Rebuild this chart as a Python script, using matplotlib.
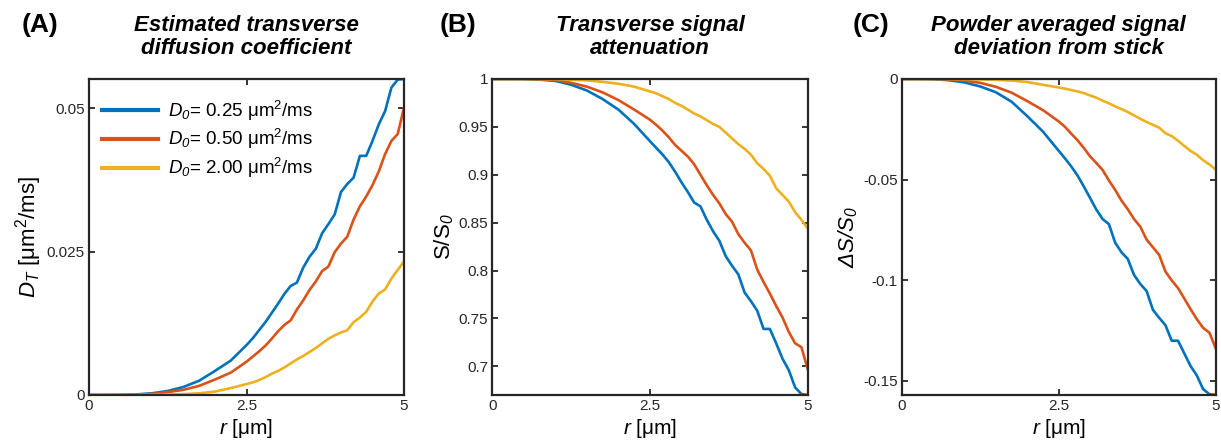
import numpy as np
import matplotlib
matplotlib.use("Agg")
import matplotlib.pyplot as plt

plt.rcParams['font.family'] = ['Liberation Sans', 'DejaVu Sans']
plt.rcParams['mathtext.fontset'] = 'custom'
plt.rcParams['mathtext.rm'] = 'Liberation Sans'
plt.rcParams['mathtext.it'] = 'Liberation Sans:italic'
plt.rcParams['mathtext.sf'] = 'Liberation Sans:italic'
plt.rcParams['mathtext.bf'] = 'Liberation Sans:bold'

# ---------------- data ----------------
r = [0, 0.25, 0.5, 0.75, 1.0, 1.25, 1.5, 1.75, 2.0, 2.25,
     2.5, 2.6, 2.7, 2.8, 2.9, 3.0, 3.1, 3.2, 3.3, 3.4, 3.5, 3.6, 3.7, 3.8, 3.9,
     4.0, 4.1, 4.2, 4.3, 4.4, 4.5, 4.6, 4.7, 4.8, 4.9, 5.0]

# Panel A: D_T [um^2/ms]
dt_025 = [0, 0, 0.00002, 0.0001, 0.0003, 0.0007, 0.0014, 0.0025, 0.0042, 0.0060,
          0.0087, 0.0099, 0.0113, 0.0127, 0.0143, 0.0159, 0.0176, 0.0190, 0.0196, 0.0222,
          0.0241, 0.0255, 0.0282, 0.0298, 0.0315, 0.0354, 0.0368, 0.0379, 0.0417, 0.0417,
          0.0443, 0.0472, 0.0495, 0.0536, 0.0550, 0.0551]
dt_050 = [0, 0, 0.00001, 0.00006, 0.0002, 0.0005, 0.0009, 0.0016, 0.0027, 0.0039,
          0.0058, 0.0067, 0.0076, 0.0086, 0.0098, 0.0111, 0.0122, 0.0130, 0.0149, 0.0165,
          0.0183, 0.0198, 0.0216, 0.0224, 0.0249, 0.0264, 0.0276, 0.0306, 0.0329, 0.0346,
          0.0366, 0.0390, 0.0420, 0.0443, 0.0455, 0.0501]
dt_200 = [0, 0, 0, 0.00001, 0.00003, 0.00007, 0.00015, 0.0003, 0.0006, 0.0012,
          0.0019, 0.0022, 0.0026, 0.0031, 0.0037, 0.0042, 0.0048, 0.0055, 0.0062, 0.0068,
          0.0075, 0.0082, 0.0090, 0.0098, 0.0104, 0.0109, 0.0113, 0.0127, 0.0135, 0.0145,
          0.0163, 0.0177, 0.0184, 0.0203, 0.0218, 0.0233]

# Panel B: S/S0
s_025 = [1, 1, 0.9999, 0.9993, 0.998, 0.994, 0.988, 0.979, 0.968, 0.953,
         0.935, 0.928, 0.921, 0.913, 0.903, 0.892, 0.882, 0.871, 0.867, 0.853,
         0.841, 0.831, 0.815, 0.805, 0.796, 0.777, 0.768, 0.758, 0.739, 0.739,
         0.724, 0.708, 0.696, 0.678, 0.671, 0.670]
s_050 = [1, 1, 1, 0.9997, 0.999, 0.996, 0.992, 0.986, 0.978, 0.968,
         0.9575, 0.952, 0.946, 0.939, 0.931, 0.925, 0.919, 0.911, 0.900, 0.889,
         0.879, 0.870, 0.859, 0.851, 0.838, 0.829, 0.821, 0.801, 0.788, 0.776,
         0.763, 0.751, 0.736, 0.724, 0.720, 0.697]
s_200 = [1, 1, 1, 0.9999, 0.9998, 0.9993, 0.9985, 0.997, 0.995, 0.992,
         0.987, 0.985, 0.982, 0.979, 0.975, 0.972, 0.968, 0.964, 0.961, 0.957,
         0.953, 0.950, 0.944, 0.938, 0.932, 0.927, 0.921, 0.912, 0.906, 0.899,
         0.886, 0.879, 0.872, 0.861, 0.853, 0.844]

# Panel C: delta S/S0
ds_025 = [0, 0, -0.0001, -0.0006, -0.0017, -0.0037, -0.0066, -0.0113, -0.0185, -0.0262,
          -0.0357, -0.0395, -0.0435, -0.0480, -0.0535, -0.0592, -0.0650, -0.0697, -0.0722, -0.0815,
          -0.0862, -0.0895, -0.0975, -0.1020, -0.1055, -0.1148, -0.1188, -0.1225, -0.1302, -0.1302,
          -0.1365, -0.1428, -0.1475, -0.1543, -0.1568, -0.1571]
ds_050 = [0, 0, 0, -0.0002, -0.0008, -0.0019, -0.0039, -0.0068, -0.0110, -0.0155,
          -0.0211, -0.0238, -0.0272, -0.0305, -0.0343, -0.0385, -0.0418, -0.0453, -0.0505, -0.0552,
          -0.0605, -0.0648, -0.0697, -0.0735, -0.0799, -0.0837, -0.0875, -0.0958, -0.1002, -0.1040,
          -0.1092, -0.1145, -0.1195, -0.1238, -0.1262, -0.1339]
ds_200 = [0, 0, 0, 0, -0.0001, -0.0002, -0.0004, -0.0008, -0.0015, -0.0029,
          -0.0042, -0.0048, -0.0055, -0.0062, -0.0070, -0.0082, -0.0093, -0.0108, -0.0121, -0.0136,
          -0.0150, -0.0164, -0.0181, -0.0198, -0.0214, -0.0228, -0.0242, -0.0270, -0.0284, -0.0307,
          -0.0333, -0.0358, -0.0377, -0.0404, -0.0425, -0.0451]

legend_labels = [r'$D_{\mathsf{0}}$= 0.25 μm$^2$/ms',
                 r'$D_{\mathsf{0}}$= 0.50 μm$^2$/ms',
                 r'$D_{\mathsf{0}}$= 2.00 μm$^2$/ms']
colors = ['#0072BD', '#D95319', '#EDB120']

titles = ['Estimated transverse\ndiffusion coefficient',
          'Transverse signal\nattenuation',
          'Powder averaged signal\ndeviation from stick']
panel_tags = ['(A)', '(B)', '(C)']
ylabels = [r'$D_T$ [μm$^2$/ms]', r'S/S$_\mathsf{0}$', r'$\mathsf{\Delta S/S_0}$']
ylims = [(0, 0.0551), (0.67, 1.0), (-0.1572, 0)]
yticks = [[0, 0.025, 0.05], [0.7, 0.75, 0.8, 0.85, 0.9, 0.95, 1.0],
          [-0.15, -0.1, -0.05, 0]]
yticklabels = [['0', '0.025', '0.05'],
               ['0.7', '0.75', '0.8', '0.85', '0.9', '0.95', '1'],
               ['-0.15', '-0.1', '-0.05', '0']]
xticks = [0, 2.5, 5]
xticklabels = ['0', '2.5', '5']

W, H = 1221, 446
fig = plt.figure(figsize=(W / 100, H / 100), dpi=100)
ax_px = [(89, 315), (492.3, 315.4), (901.7, 314)]
top_px, bot_px = 79, 395
series = [(dt_025, dt_050, dt_200), (s_025, s_050, s_200), (ds_025, ds_050, ds_200)]
tag_x = [22, 440, 853]

dark = '#262626'
for i in range(3):
    left, width = ax_px[i]
    ax = fig.add_axes([left / W, 1 - bot_px / H, width / W, (bot_px - top_px) / H])
    for ys, c, lab in zip(series[i], colors, legend_labels):
        ax.plot(r, ys, color=c, lw=1.9, label=lab, clip_on=True)
    ax.set_xlim(0, 5)
    ax.set_ylim(*ylims[i])
    ax.set_xticks(xticks)
    ax.set_xticklabels(xticklabels)
    ax.set_yticks(yticks[i])
    ax.set_yticklabels(yticklabels[i])
    ax.tick_params(direction='in', length=4.5, width=1.3, top=True, right=True,
                   labelsize=11, colors=dark, pad=3)
    for sp in ax.spines.values():
        sp.set_linewidth(1.6)
        sp.set_color(dark)
    ax.set_xlabel(r'$r$ [μm]', fontsize=15, color='black', labelpad=3)
    ax.set_ylabel(ylabels[i], fontsize=16, color='black', labelpad=2)
    ax.set_title(titles[i], fontsize=16, fontweight='bold', fontstyle='italic',
                 pad=18, linespacing=1.1)
    fig.text(tag_x[i] / W, 1 - 25 / H, panel_tags[i], fontsize=19, fontweight='bold',
             va='center')
    if i == 0:
        ax.legend(loc='upper left', frameon=False, fontsize=13.5, handlelength=3.0,
                  handletextpad=0.5, borderaxespad=0.3, labelspacing=0.25,
                  bbox_to_anchor=(0.0, 0.98))
        leg = ax.get_legend()
        for ln in leg.get_lines():
            ln.set_linewidth(3)

fig.savefig('out.png', dpi=100)
